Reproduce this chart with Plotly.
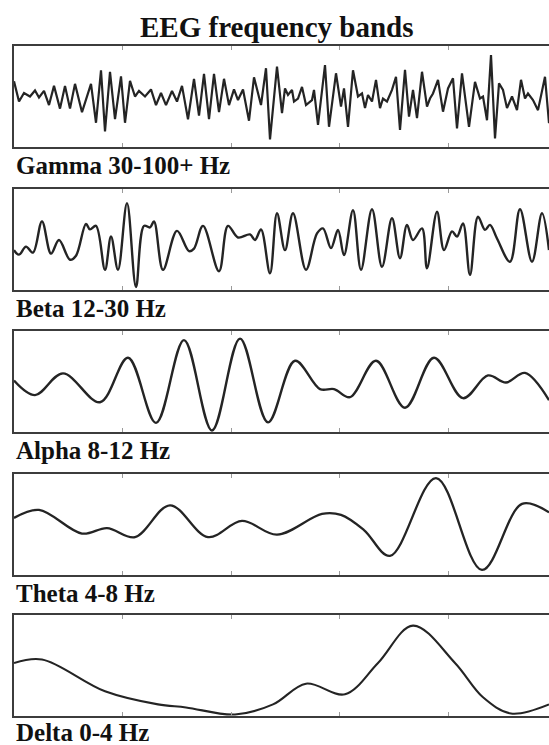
import plotly.graph_objects as go

# EEG traces, time in samples (tick every 108.5 samples), amplitude normalised to the panel box
band_names = ["Gamma 30-100+ Hz", "Beta 12-30 Hz", "Alpha 8-12 Hz", "Theta 4-8 Hz", "Delta 0-4 Hz"]

gamma_t = [0, 5, 10, 16, 21, 25, 30, 35, 40, 46, 51, 56, 61, 68, 77, 82, 87, 91, 96, 101,
           107, 111, 116, 121, 125, 131, 137, 142, 147, 152, 158, 163, 168, 174, 180, 185, 190, 195, 200, 205,
           210, 215, 220, 224, 229, 235, 240, 247, 252, 256, 263, 268, 271, 274, 278, 280, 284, 288, 292, 298,
           300, 304, 311, 315, 322, 327, 330, 334, 339, 344, 348, 351, 354, 358, 362, 366, 369, 373, 378, 382,
           386, 391, 395, 399, 403, 408, 413, 416, 419, 424, 429, 434, 439, 443, 448, 455, 461, 466, 469, 473,
           477, 481, 485, 489, 493, 498, 503, 507, 511, 514, 519, 524, 531, 535]
gamma_v = [0.30, -0.10, 0.07, 0.0, 0.12, -0.02, 0.11, -0.17, 0.21, -0.24, 0.21, -0.24, 0.25, -0.31, 0.25, -0.52, 0.52, -0.69, 0.49, -0.45,
           0.40, -0.52, 0.31, 0.0, 0.11, 0.0, 0.14, -0.17, 0.07, -0.17, 0.11, -0.10, 0.21, -0.45, 0.35, -0.38, 0.45, -0.45, 0.45, -0.31,
           0.35, -0.17, 0.14, -0.07, 0.14, -0.48, 0.38, -0.17, 0.56, -0.85, 0.59, -0.33, 0.16, 0.03, 0.13, -0.10, -0.04, 0.19, -0.17, -0.07,
           0.13, -0.56, 0.62, -0.60, 0.46, -0.20, 0.16, -0.60, 0.52, 0.0, 0.06, -0.23, 0.03, -0.10, 0.33, -0.23, -0.04, -0.10, 0.13, 0.39,
           -0.66, 0.53, -0.40, 0.13, -0.43, 0.49, -0.20, -0.04, 0.06, 0.33, -0.30, 0.16, 0.36, -0.63, 0.46, -0.60, 0.29, -0.04, 0.0, -0.47,
           0.82, -0.83, 0.26, 0.13, -0.23, 0.0, -0.27, 0.33, -0.04, 0.06, -0.07, -0.27, 0.39, -0.53]

beta_t = [0, 5, 12, 19, 28, 37, 45, 56, 62, 72, 76, 82, 91, 97, 104, 113, 122, 130, 136, 140,
          149, 163, 175, 180, 189, 205, 214, 224, 236, 241, 247, 256, 263, 271, 279, 292, 303, 309, 317, 324,
          330, 339, 347, 358, 368, 378, 386, 393, 399, 408, 413, 423, 430, 438, 443, 449, 456, 464, 471, 476,
          483, 496, 506, 518, 528, 535]
beta_v = [-0.22, -0.31, -0.15, -0.27, 0.35, -0.29, -0.02, -0.41, -0.33, 0.30, 0.19, 0.26, -0.61, 0.05, -0.61, 0.71, -0.95, 0.26, 0.23, 0.35,
          -0.61, 0.16, -0.24, -0.19, 0.26, -0.64, 0.26, 0.03, 0.09, -0.02, 0.19, -0.68, 0.51, -0.22, 0.51, -0.61, 0.11, 0.21, -0.18, 0.18,
          -0.32, 0.57, -0.61, 0.59, -0.55, 0.41, -0.38, 0.28, -0.02, 0.21, -0.58, 0.54, -0.22, 0.15, 0.05, 0.31, -0.71, 0.44, 0.18, 0.28,
          0.01, -0.45, 0.59, -0.45, 0.51, -0.22]

alpha_t = [0, 21, 49, 86, 114, 142, 170, 198, 226, 254, 281, 306, 320, 336, 362, 391, 420, 449, 474, 492, 511, 535]
alpha_v = [0.02, -0.27, 0.16, -0.41, 0.47, -0.82, 0.82, -0.97, 0.85, -0.81, 0.41, -0.15, -0.15, -0.31, 0.41, -0.52, 0.47, -0.33, 0.12, -0.02, 0.17, -0.37]

theta_t = [0, 25, 68, 93, 121, 156, 194, 228, 263, 308, 327, 350, 376, 422, 468, 508, 535]
theta_v = [0.12, 0.28, -0.19, -0.08, -0.26, 0.37, -0.26, 0.06, -0.21, 0.20, 0.18, -0.12, -0.63, 0.91, -0.91, 0.40, 0.23]

delta_t = [0, 28, 91, 144, 172, 221, 259, 292, 331, 364, 399, 441, 469, 497, 535]
delta_v = [0.05, 0.12, -0.51, -0.77, -0.83, -0.97, -0.77, -0.36, -0.57, 0.05, 0.79, 0.05, -0.63, -0.95, -0.77]

traces = [(gamma_t, gamma_v, "linear", 2.2), (beta_t, beta_v, "spline", 2.4),
          (alpha_t, alpha_v, "spline", 2.4), (theta_t, theta_v, "spline", 2.3),
          (delta_t, delta_v, "spline", 2.1)]

# the panels run past the right edge of the window, so the figure is a bit wider than the view
VIEW_W, H = 549, 745
W = 565
panel_tops = [46, 188.5, 331, 473.5, 615]
panel_h = 101
label_gap = [18.5, 18.5, 18.5, 18.5, 16.5]  # last label sits against the bottom edge
left_px = 14
x_end = 535 + (W - VIEW_W)  # samples at the (hidden) right edge of the box
serif = "Liberation Serif"

fig = go.Figure()
layout = {}
annotations = []

for i, (t, v, shape, lw) in enumerate(traces):
    n = "" if i == 0 else str(i + 1)
    fig.add_trace(go.Scatter(
        x=t, y=v, mode="lines",
        line=dict(color="#242424", width=lw, shape=shape, smoothing=1.0),
        xaxis="x" + n, yaxis="y" + n, showlegend=False, hoverinfo="skip",
    ))
    top = panel_tops[i]
    bottom = top + panel_h
    layout["xaxis" + n] = dict(
        domain=[left_px / W, 1], range=[0, x_end], anchor="y" + n,
        showline=True, linecolor="#3c3c3c", linewidth=2, mirror="ticks",
        ticks="inside", ticklen=4, tickcolor="#9a9a9a", tickwidth=1,
        tick0=0, dtick=108.5, showticklabels=False, showgrid=False, zeroline=False,
    )
    layout["yaxis" + n] = dict(
        domain=[1 - bottom / H, 1 - top / H], range=[-1, 1], anchor="x" + n,
        showline=True, linecolor="#3c3c3c", linewidth=2, mirror=False,
        ticks="", showticklabels=False, showgrid=False, zeroline=False,
    )
    annotations.append(dict(
        text="<b>" + band_names[i] + "</b>", xref="paper", yref="paper",
        x=left_px / W, y=1 - (bottom + label_gap[i]) / H, xanchor="left", yanchor="middle",
        showarrow=False, font=dict(family=serif, size=25, color="#111111"),
    ))

annotations.append(dict(
    text="<b>EEG frequency bands</b>", xref="paper", yref="paper",
    x=276 / W, y=1 - 27 / H, xanchor="center", yanchor="middle",
    showarrow=False, font=dict(family=serif, size=29, color="#111111"),
))

fig.update_layout(
    **layout,
    annotations=annotations,
    width=W, height=H,
    margin=dict(l=0, r=0, t=0, b=0),
    paper_bgcolor="white", plot_bgcolor="white",
)

# drop the browser's default body margin so the figure starts at the window corner
fig.write_html(
    "out.html",
    config={"displayModeBar": False},
    post_script="document.body.style.margin='0';document.body.style.overflow='hidden';",
)
